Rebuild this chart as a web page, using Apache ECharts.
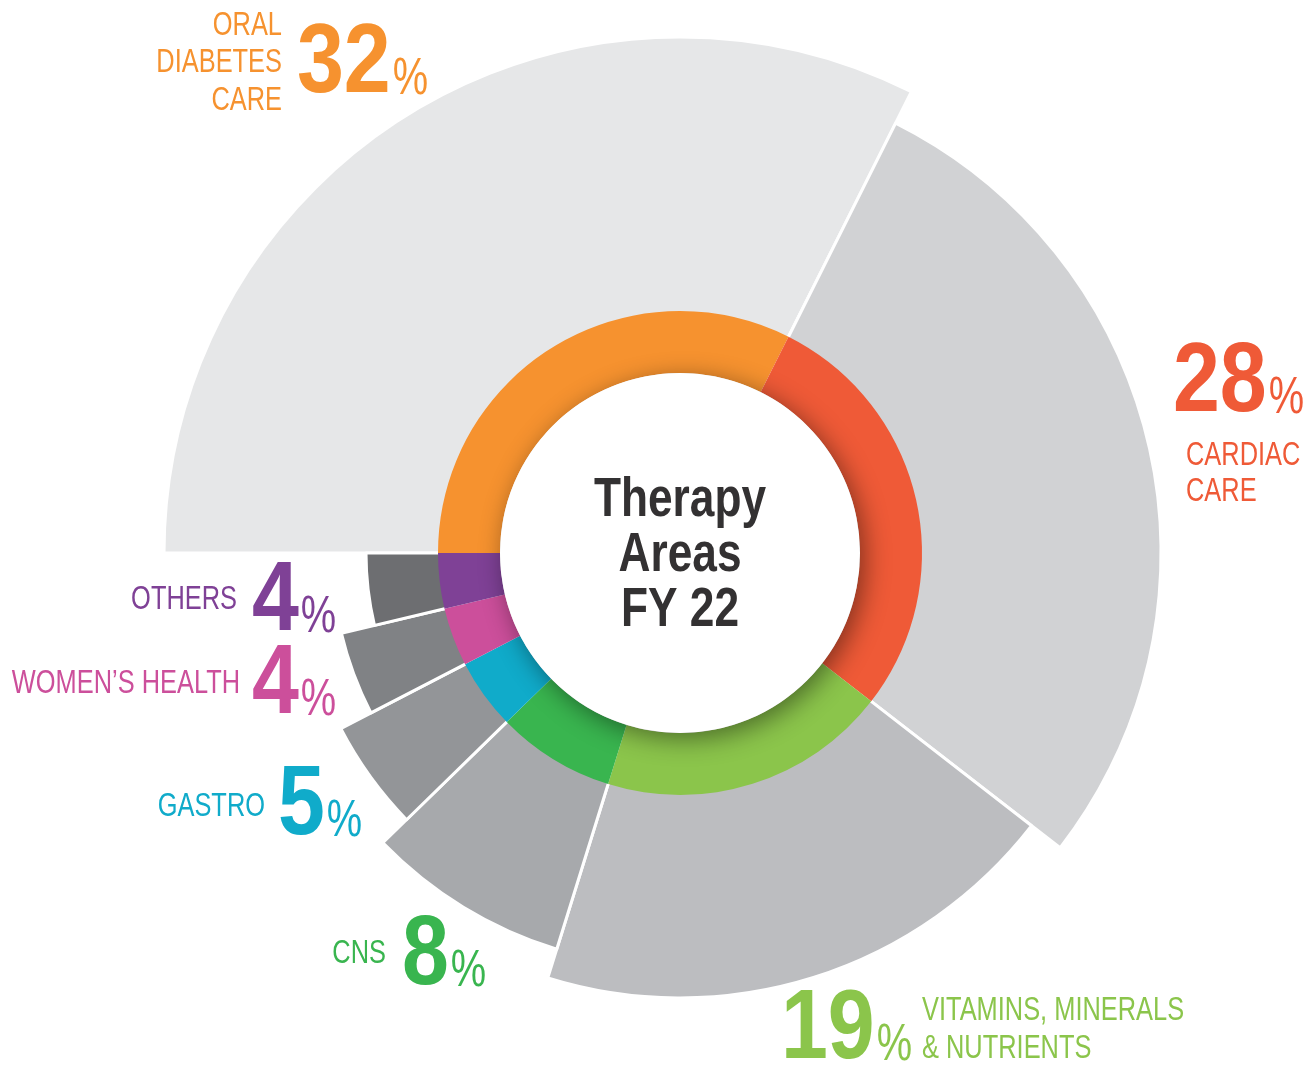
<!DOCTYPE html>
<html>
<head>
<meta charset="utf-8">
<title>Therapy Areas FY 22</title>
<script src="https://cdn.jsdelivr.net/npm/echarts@6/dist/echarts.min.js"></script>
<style>
  html, body { margin: 0; padding: 0; background: #fff; }
  #chart { width: 1309px; height: 1065px; }
</style>
</head>
<body>
<div id="chart"></div>
<script>
// data (sector angles; labels show them rounded)
const categories = ['ORAL\nDIABETES\nCARE', 'CARDIAC\nCARE', 'VITAMINS, MINERALS\n& NUTRIENTS', 'CNS', 'GASTRO', 'WOMEN’S HEALTH', 'OTHERS'];
const shares = [32.4, 28.1, 19.3, 7.9, 4.7, 3.9, 3.7];
const centerTitle = ['Therapy', 'Areas', 'FY 22'];

// colours
const ringColors = ['#f6922f', '#ef5a37', '#8bc54b', '#39b54f', '#10abca', '#cc4f9b', '#7f4196'];
const greyColors = ['#e6e7e8', '#d1d2d4', '#bcbdc0', '#a7a9ac', '#939598', '#808285', '#6d6e71'];

// layout (pixels)
const CX = 680, CY = 553;
const outerRadius = [516, 481, 445, 415, 382, 348, 314];
const ringRadius = [180, 242];
// label anchors: number left x / cap centre y, name x / centre y
const labelPos = [
  { nx: 297, ny: 60, tx: 282, ty: 61, align: 'right', lh: 37.5 },
  { nx: 1173, ny: 379, tx: 1186, ty: 472, align: 'left', lh: 36.5 },
  { nx: 781, ny: 1026, tx: 922, ty: 1028, align: 'left', lh: 38.5 },
  { nx: 402, ny: 952, tx: 386, ty: 952, align: 'right', lh: 36 },
  { nx: 278, ny: 802, tx: 265, ty: 805, align: 'right', lh: 36 },
  { nx: 252, ny: 681, tx: 240, ty: 682, align: 'right', lh: 36 },
  { nx: 252, ny: 598, tx: 237, ty: 598, align: 'right', lh: 36 }
];

// no condensed face is installed, so Liberation Sans is squeezed with scaleX
const FONT = "'Liberation Sans', Arial, sans-serif";
const NUM_FONT = 'bold 98px ' + FONT;
const NUM_SX = 0.86;
const PCT_FONT = 'normal 51px ' + FONT;
const PCT_SX = 0.78;
const NAME_FONT = 'normal 33px ' + FONT;
const NAME_SX = 0.77;

const measureCtx = document.createElement('canvas').getContext('2d');
function textWidth(t, font) {
  measureCtx.font = font;
  return measureCtx.measureText(t).width;
}

let myChart = echarts.init(document.getElementById('chart'));

const pieData = categories.map((name, i) => ({ name, value: shares[i] }));

// one grey pie per area so every sector keeps its own outer radius
const greySeries = categories.map((name, idx) => ({
  type: 'pie',
  silent: true,
  center: [CX, CY],
  radius: [200, outerRadius[idx]],
  startAngle: 180,
  clockwise: true,
  label: { show: false },
  labelLine: { show: false },
  emphasis: { disabled: true },
  data: pieData.map((d, i) => ({
    name: d.name,
    value: d.value,
    itemStyle: i === idx
      ? { color: greyColors[i], borderColor: '#fff', borderWidth: 3 }
      : { color: 'rgba(0,0,0,0)', borderWidth: 0 }
  }))
}));

function textEl(x, y, text, font, color, align, sx, lh) {
  return {
    type: 'text', x, y, scaleX: sx, z: 100,
    style: { text, font, fill: color, align, verticalAlign: 'middle', lineHeight: lh }
  };
}

const labels = [];
categories.forEach((name, i) => {
  const p = labelPos[i];
  const color = ringColors[i];
  const num = String(Math.round(shares[i]));
  const w = textWidth(num, NUM_FONT) * NUM_SX;
  labels.push(textEl(p.nx, p.ny + 5, num, NUM_FONT, color, 'left', NUM_SX));
  labels.push(textEl(p.nx + w + 2, p.ny + 20, '%', PCT_FONT, color, 'left', PCT_SX));
  labels.push(textEl(p.tx, p.ty + 2, name, NAME_FONT, color, p.align, NAME_SX, p.lh));
});
labels.push(textEl(CX, CY + 3, centerTitle.join('\n'), 'bold 56px ' + FONT, '#333132', 'center', 0.79, 55));

let option = {
  animation: false,
  backgroundColor: '#fff',
  series: greySeries.concat([
    {
      type: 'pie',
      silent: true,
      center: [CX, CY],
      radius: ringRadius,
      startAngle: 180,
      clockwise: true,
      label: { show: false },
      labelLine: { show: false },
      emphasis: { disabled: true },
      data: pieData.map((d, i) => ({ name: d.name, value: d.value, itemStyle: { color: ringColors[i] } }))
    },
    {
      // white disc in the middle, its shadow falls on the ring
      type: 'pie',
      silent: true,
      center: [CX, CY],
      radius: [0, ringRadius[0]],
      label: { show: false },
      labelLine: { show: false },
      emphasis: { disabled: true },
      itemStyle: {
        color: '#fff',
        shadowBlur: 26,
        shadowColor: 'rgba(0,0,0,0.45)',
        shadowOffsetX: 5,
        shadowOffsetY: 6
      },
      data: [{ name: 'centre', value: 1 }]
    }
  ]),
  graphic: { elements: labels }
};

myChart.setOption(option);
window.addEventListener('resize', () => myChart.resize(), false);
</script>
</body>
</html>
